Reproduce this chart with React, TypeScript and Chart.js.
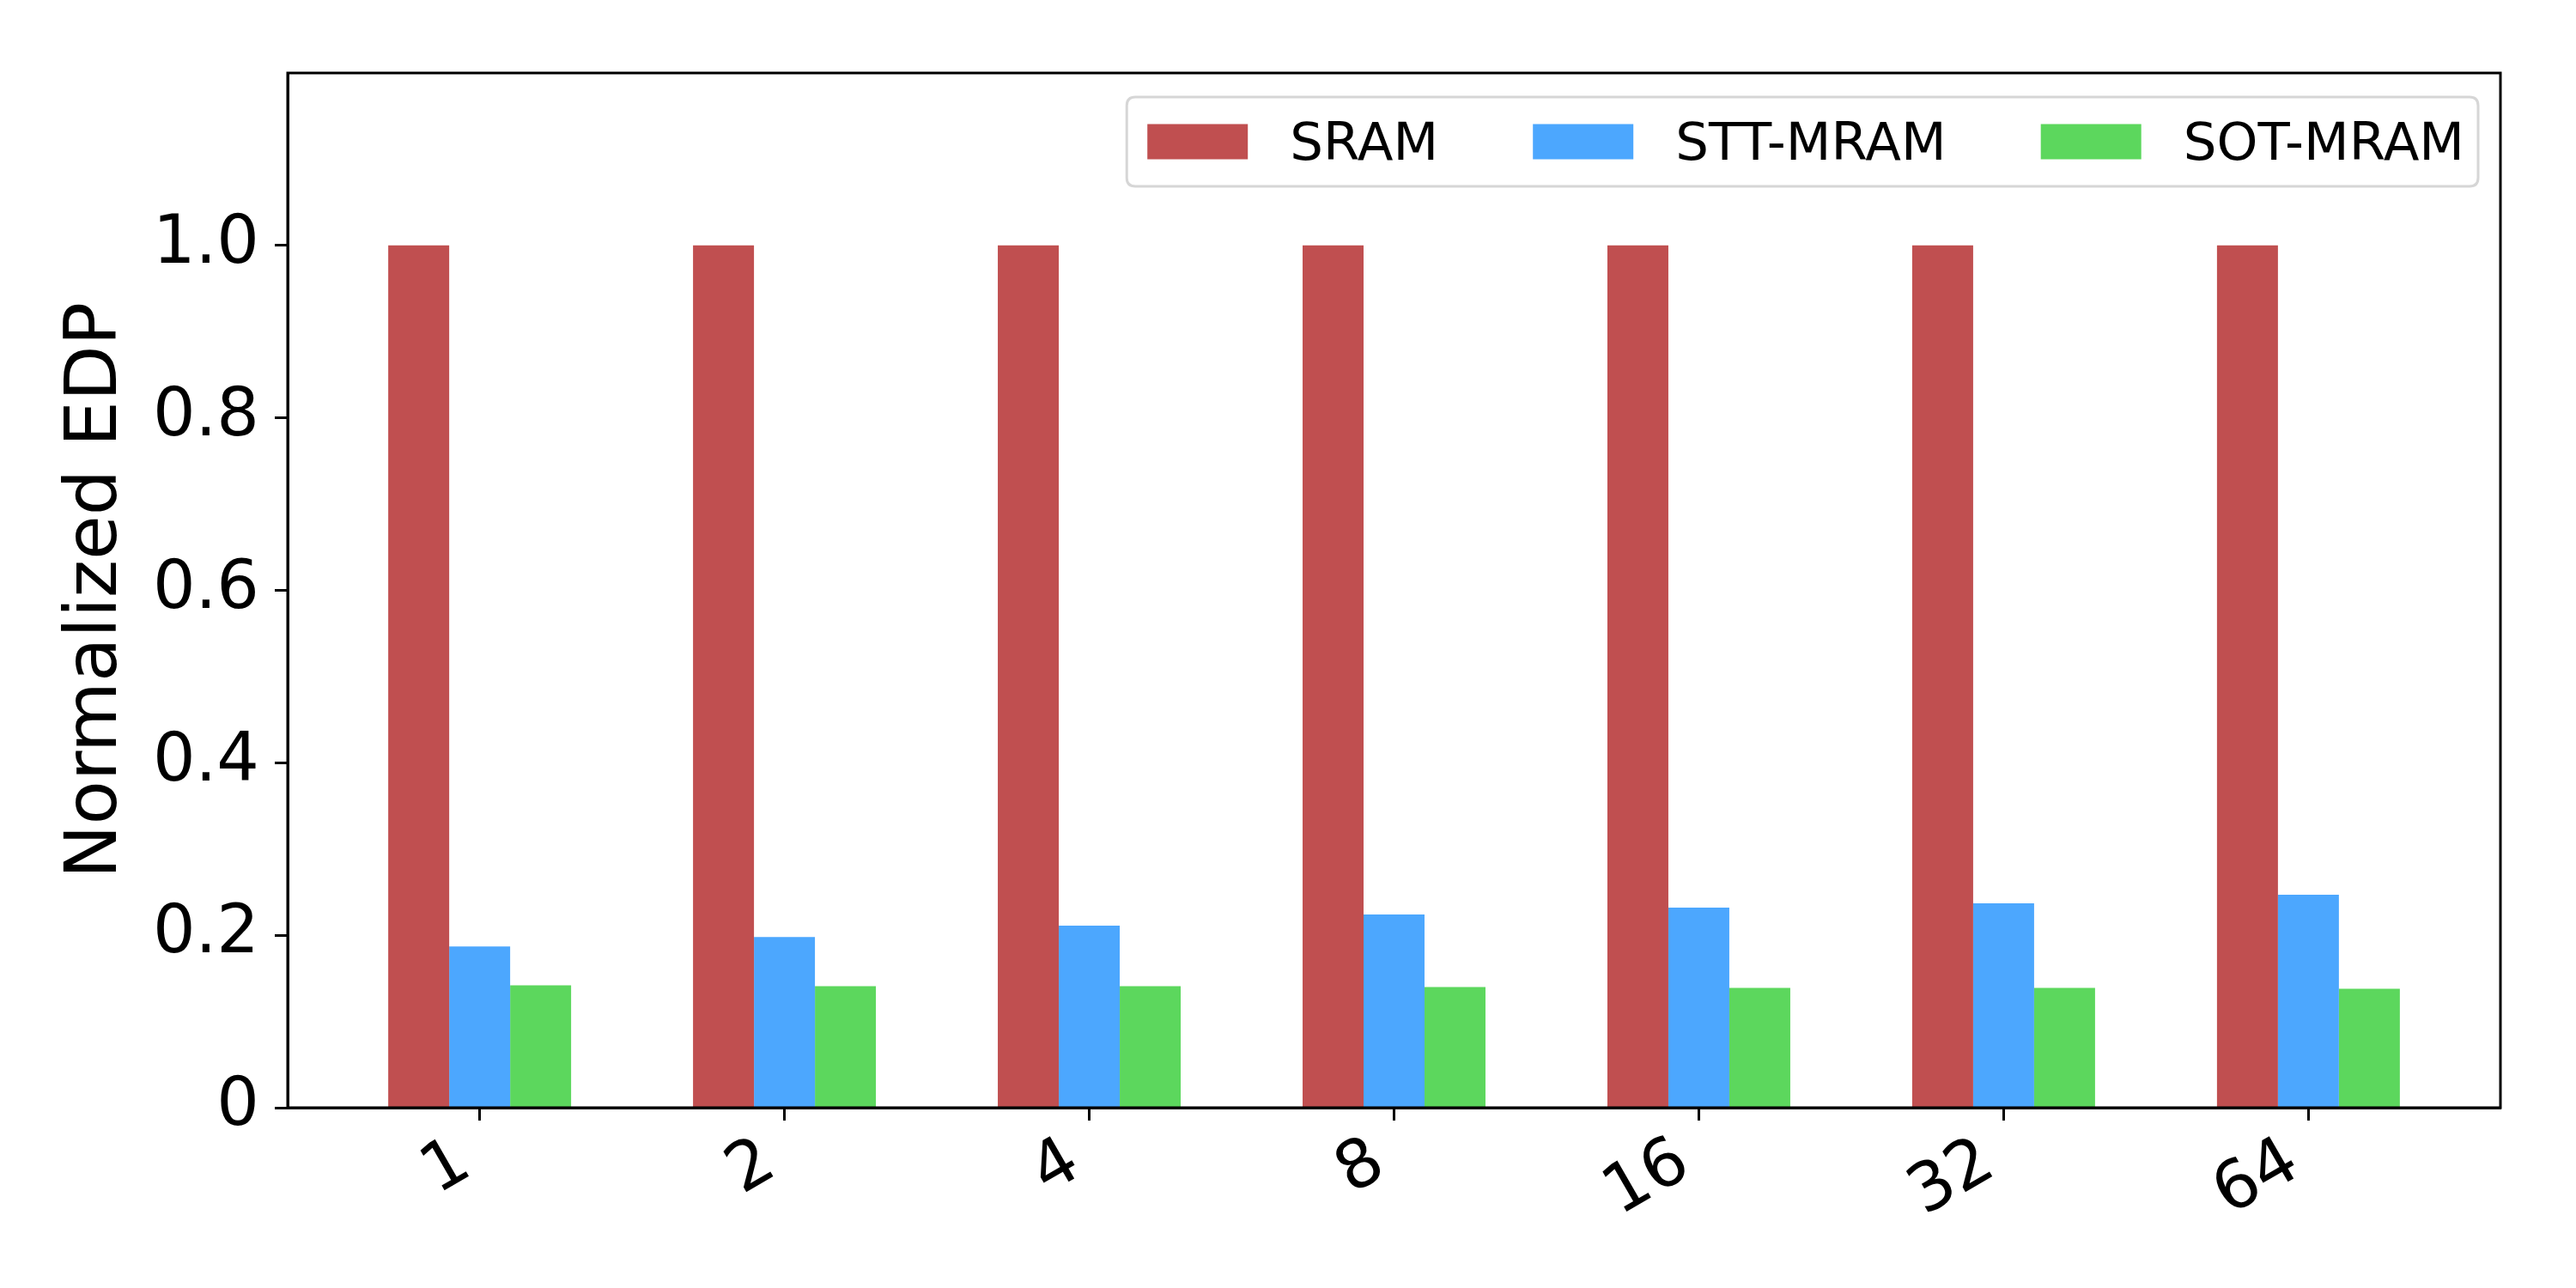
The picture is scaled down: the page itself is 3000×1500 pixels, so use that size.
import React, { useEffect, useRef } from "react";
import { Chart, registerables } from "chart.js";

Chart.register(...registerables);

const categories = ["1", "2", "4", "8", "16", "32", "64"];
const seriesNames = ["SRAM", "STT-MRAM", "SOT-MRAM"];
const sramValues = [1.0, 1.0, 1.0, 1.0, 1.0, 1.0, 1.0];
const sttValues = [0.187, 0.198, 0.211, 0.224, 0.232, 0.237, 0.247];
const sotValues = [0.142, 0.141, 0.141, 0.140, 0.139, 0.139, 0.138];
const yTickValues = [0, 0.2, 0.4, 0.6, 0.8, 1.0];
const yTickLabels = ["0", "0.2", "0.4", "0.6", "0.8", "1.0"];

const colors = ["#C04F50", "#4CA7FE", "#5CD75D"];
const FONT = "'DejaVu Sans', sans-serif";

const frameAndLegend = {
  id: "frameAndLegend",
  afterDraw(chart: any) {
    const { ctx, chartArea } = chart;
    ctx.save();
    // frame
    ctx.strokeStyle = "#000";
    ctx.lineWidth = 3;
    ctx.strokeRect(chartArea.left, chartArea.top, chartArea.right - chartArea.left, chartArea.bottom - chartArea.top);

    // legend inside plot, upper right
    const fontSize = 61;
    ctx.font = `${fontSize}px ${FONT}`;
    const swW = 117, swH = 41, swGap = 49, colGap = 110, padL = 24, padR = 16;
    const items = chart.data.datasets.map((d: any) => ({ label: d.label, color: d.backgroundColor }));
    const widths = items.map((it: any) => ctx.measureText(it.label).width);
    let total = padL + padR;
    widths.forEach((w: number, i: number) => {
      total += swW + swGap + w + (i < widths.length - 1 ? colGap : 0);
    });
    const boxRight = chartArea.right - 26;
    const boxLeft = boxRight - total;
    const boxTop = chartArea.top + 28;
    const boxH = 104;
    const r = 10;
    ctx.beginPath();
    ctx.moveTo(boxLeft + r, boxTop);
    ctx.lineTo(boxRight - r, boxTop);
    ctx.quadraticCurveTo(boxRight, boxTop, boxRight, boxTop + r);
    ctx.lineTo(boxRight, boxTop + boxH - r);
    ctx.quadraticCurveTo(boxRight, boxTop + boxH, boxRight - r, boxTop + boxH);
    ctx.lineTo(boxLeft + r, boxTop + boxH);
    ctx.quadraticCurveTo(boxLeft, boxTop + boxH, boxLeft, boxTop + boxH - r);
    ctx.lineTo(boxLeft, boxTop + r);
    ctx.quadraticCurveTo(boxLeft, boxTop, boxLeft + r, boxTop);
    ctx.closePath();
    ctx.fillStyle = "rgba(255,255,255,0.8)";
    ctx.fill();
    ctx.strokeStyle = "#d6d6d6";
    ctx.lineWidth = 3;
    ctx.stroke();

    let x = boxLeft + padL;
    const cy = boxTop + boxH / 2;
    ctx.textBaseline = "alphabetic";
    ctx.textAlign = "left";
    items.forEach((it: any, i: number) => {
      ctx.fillStyle = it.color;
      ctx.fillRect(x, cy - swH / 2, swW, swH);
      x += swW + swGap;
      ctx.fillStyle = "#000";
      ctx.fillText(it.label, x, cy + 21);
      x += widths[i] + colGap;
    });
    ctx.restore();
  },
};

export default function App() {
  const canvasRef = useRef<HTMLCanvasElement | null>(null);

  useEffect(() => {
    if (!canvasRef.current) return;
    const seriesValues = [sramValues, sttValues, sotValues];
    const chart = new Chart(canvasRef.current, {
      type: "bar",
      data: {
        datasets: seriesNames.map((name, s) => ({
          label: name,
          data: seriesValues[s].map((v, i) => ({ x: i, y: v })),
          backgroundColor: colors[s],
          borderWidth: 0,
          categoryPercentage: 0.6,
          barPercentage: 1.0,
        })),
      },
      options: {
        responsive: false,
        devicePixelRatio: 1,
        animation: false,
        layout: { padding: { left: 0, top: 85, right: 88, bottom: 0 } },
        plugins: {
          legend: { display: false },
          tooltip: { enabled: false },
          title: { display: false },
        },
        scales: {
          x: {
            type: "linear",
            min: -0.63,
            max: 6.63,
            offset: false,
            afterBuildTicks: (scale: any) => {
              scale.ticks = categories.map((_, i) => ({ value: i }));
            },
            afterFit: (scale: any) => {
              scale.height = 210;
            },
            border: { display: true, color: "#000", width: 3 },
            grid: {
              display: true,
              offset: false,
              drawOnChartArea: false,
              drawTicks: true,
              tickLength: 15,
              tickWidth: 3,
              tickColor: "#000",
            },
            ticks: {
              autoSkip: false,
              minRotation: 30,
              maxRotation: 30,
              padding: 3,
              labelOffset: -40,
              color: "#000",
              font: { family: FONT, size: 78 },
              showLabelBackdrop: true,
              backdropColor: "rgba(0,0,0,0)",
              backdropPadding: 0,
              callback: (value: any) => categories[Math.round(Number(value))] ?? "",
            },
          },
          y: {
            type: "linear",
            min: 0,
            max: 1.2,
            afterBuildTicks: (scale: any) => {
              scale.ticks = yTickValues.map((v) => ({ value: v }));
            },
            afterFit: (scale: any) => {
              scale.width = 335;
            },
            border: { display: true, color: "#000", width: 3 },
            grid: {
              display: true,
              drawOnChartArea: false,
              drawTicks: true,
              tickLength: 15,
              tickWidth: 3,
              tickColor: "#000",
            },
            ticks: {
              padding: 18,
              color: "#000",
              font: { family: FONT, size: 78 },
              callback: (value: any) => {
                const idx = yTickValues.findIndex((t) => Math.abs(t - Number(value)) < 1e-9);
                return idx >= 0 ? yTickLabels[idx] : "";
              },
            },
            title: {
              display: true,
              text: "Normalized EDP",
              color: "#000",
              font: { family: FONT, size: 84, lineHeight: 1 },
              padding: { top: 71, bottom: 0 },
            },
          },
        },
      },
      plugins: [frameAndLegend],
    });
    return () => chart.destroy();
  }, []);

  return (
    <div style={{ position: "absolute", left: 0, top: 0, width: 3000, height: 1500, background: "#fff" }}>
      <canvas ref={canvasRef} width={3000} height={1500} />
    </div>
  );
}
